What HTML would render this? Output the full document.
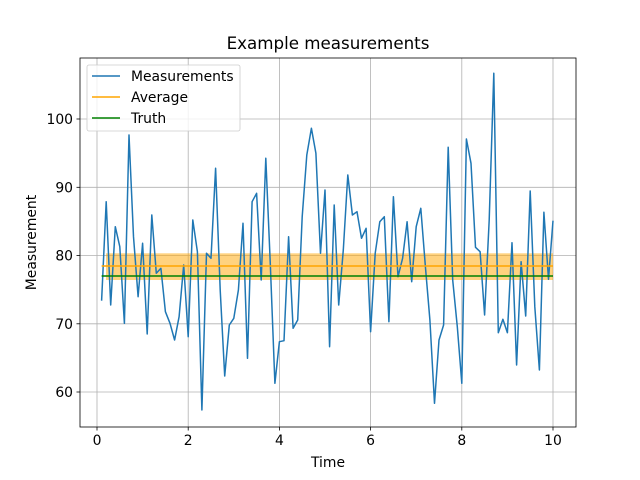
<!DOCTYPE html>
<html><head><meta charset="utf-8"><style>body{margin:0;background:#fff}svg{display:block}text{font-family:"DejaVu Sans","Liberation Sans",sans-serif;fill:#000}</style></head><body>
<svg width="640" height="480" xmlns="http://www.w3.org/2000/svg">
<rect width="640" height="480" fill="#fff"/>
<g stroke="#b0b0b0" stroke-width="0.8">
<line x1="97" y1="58" x2="97" y2="427"/><line x1="188.2" y1="58" x2="188.2" y2="427"/><line x1="279.4" y1="58" x2="279.4" y2="427"/><line x1="370.6" y1="58" x2="370.6" y2="427"/><line x1="461.8" y1="58" x2="461.8" y2="427"/><line x1="553" y1="58" x2="553" y2="427"/>
<line x1="80" y1="119" x2="576" y2="119"/><line x1="80" y1="187.3" x2="576" y2="187.3"/><line x1="80" y1="255.5" x2="576" y2="255.5"/><line x1="80" y1="323.8" x2="576" y2="323.8"/><line x1="80" y1="392" x2="576" y2="392"/>
</g>
<rect x="106" y="253.3" width="447" height="26.7" fill="#ffa500" fill-opacity="0.5"/>
<polyline fill="none" stroke="#1f77b4" stroke-width="1.5" stroke-linejoin="round" points="101.6,300.7 106.2,201.7 110.7,305 115.3,226.7 119.8,246.7 124.4,323.3 129,135 133.5,236.7 138.1,296.7 142.6,243.3 147.2,334 151.8,215 156.3,273.3 160.9,268.3 165.4,311.7 170,323.3 174.6,340 179.1,316.7 183.7,265 188.2,336.7 192.8,220 197.4,251.7 201.9,410 206.5,253.3 211,258.3 215.6,168.3 220.2,290 224.7,376 229.3,325 233.8,318.3 238.4,290 243,223.3 247.5,358.3 252.1,201.7 256.6,193.3 261.2,280 265.8,158.3 270.3,264 274.9,383.3 279.4,341.7 284,340.7 288.6,236.7 293.1,328.3 297.7,320 302.2,216.7 306.8,155 311.4,128.3 315.9,153.3 320.5,253.3 325,190 329.6,346.7 334.2,205 338.7,305 343.3,250 347.8,175 352.4,215 357,211.7 361.5,238.3 366.1,228.3 370.6,331.7 375.2,253.3 379.8,221.7 384.3,216.7 388.9,321.7 393.4,196.7 398,276.7 402.6,258.3 407.1,221.7 411.7,281.7 416.2,226.7 420.8,208.3 425.4,266.7 429.9,320 434.5,403.3 439,340 443.6,325 448.2,147.3 452.7,280 457.3,326.7 461.8,383.3 466.4,139 471,163.3 475.5,247.3 480.1,251.7 484.6,315 489.2,220 493.8,73.3 498.3,332.7 502.9,319.3 507.4,332.7 512,242.7 516.6,365 521.1,261.7 525.7,316 530.2,191 534.8,306.7 539.4,370 543.9,212.3 548.5,279.3 553,220.7"/>
<line x1="101.6" y1="266" x2="553" y2="266" stroke="#ffa500" stroke-width="1.5"/>
<line x1="101.6" y1="276" x2="553" y2="276" stroke="#008000" stroke-width="1.5"/>
<rect x="80" y="58" width="496" height="369" fill="none" stroke="#000" stroke-width="0.8"/>
<g stroke="#000" stroke-width="0.8">
<line x1="97" y1="427" x2="97" y2="430.5"/><line x1="188.2" y1="427" x2="188.2" y2="430.5"/><line x1="279.4" y1="427" x2="279.4" y2="430.5"/><line x1="370.6" y1="427" x2="370.6" y2="430.5"/><line x1="461.8" y1="427" x2="461.8" y2="430.5"/><line x1="553" y1="427" x2="553" y2="430.5"/>
<line x1="76.5" y1="119" x2="80" y2="119"/><line x1="76.5" y1="187.3" x2="80" y2="187.3"/><line x1="76.5" y1="255.5" x2="80" y2="255.5"/><line x1="76.5" y1="323.8" x2="80" y2="323.8"/><line x1="76.5" y1="392" x2="80" y2="392"/>
</g>
<g font-size="13.9" text-anchor="middle">
<text x="97" y="445">0</text><text x="188.2" y="445">2</text><text x="279.4" y="445">4</text><text x="370.6" y="445">6</text><text x="461.8" y="445">8</text><text x="553" y="445">10</text>
</g>
<g font-size="13.9" text-anchor="end">
<text x="73" y="124">100</text><text x="73" y="192.3">90</text><text x="73" y="260.5">80</text><text x="73" y="328.8">70</text><text x="73" y="397">60</text>
</g>
<text x="328" y="467" font-size="13.9" text-anchor="middle">Time</text>
<text x="36" y="242.5" font-size="13.9" text-anchor="middle" transform="rotate(-90 36 242.5)">Measurement</text>
<text x="328" y="49" font-size="16.7" text-anchor="middle">Example measurements</text>
<rect x="87" y="65" width="153" height="66" rx="2" fill="#fff" fill-opacity="0.8" stroke="#ccc" stroke-width="0.8"/>
<line x1="92" y1="76" x2="120" y2="76" stroke="#1f77b4" stroke-width="1.5"/>
<line x1="92" y1="97" x2="120" y2="97" stroke="#ffa500" stroke-width="1.5"/>
<line x1="92" y1="118" x2="120" y2="118" stroke="#008000" stroke-width="1.5"/>
<g font-size="13.9"><text x="131" y="81">Measurements</text><text x="131" y="102">Average</text><text x="131" y="123">Truth</text></g>
</svg>
</body></html>
